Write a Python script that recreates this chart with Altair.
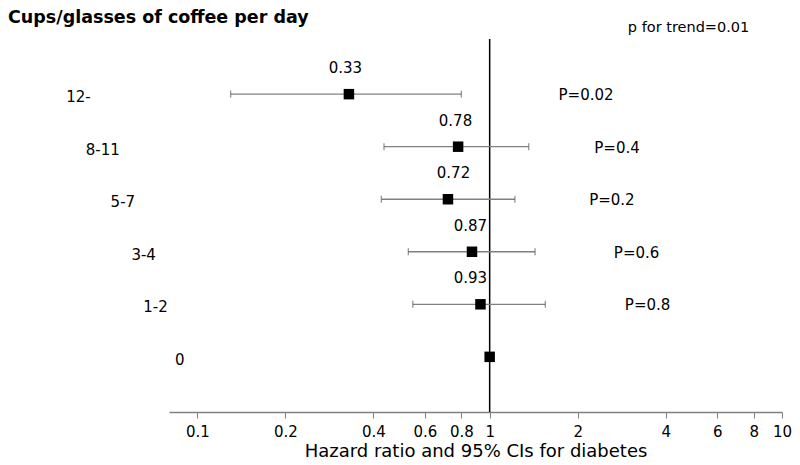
import altair as alt
import pandas as pd

categories = ["12-", "8-11", "5-7", "3-4", "1-2", "0"]
hr = [0.33, 0.78, 0.72, 0.87, 0.93, 1.0]
ci_low = [0.13, 0.435, 0.426, 0.527, 0.546, None]
ci_high = [0.80, 1.36, 1.22, 1.43, 1.55, None]
hr_text = ["0.33", "0.78", "0.72", "0.87", "0.93", ""]
p_text = ["P=0.02", "P=0.4", "P=0.2", "P=0.6", "P=0.8", ""]
# label anchor positions (in hazard-ratio units) as they appear in the figure
hr_label_x = [0.321, 0.764, 0.752, 0.859, 0.859, 1.0]
p_label_x = [1.72, 2.28, 2.19, 2.66, 2.90, None]
cat_label_x = [0.0356, 0.0415, 0.0505, 0.0595, 0.0653, 0.0839]
tick_values = [0.1, 0.2, 0.4, 0.6, 0.8, 1, 2, 4, 6, 8, 10]
trend_text = ["p for trend=0.01"]
trend_x = [2.97]
trend_row = [7.25]

n = len(categories)
df = pd.DataFrame({
    "cat": categories,
    "hr": hr,
    "lo": ci_low,
    "hi": ci_high,
    "hr_text": hr_text,
    "hr_x": hr_label_x,
    "p_text": p_text,
    "p_x": p_label_x,
    "cat_x": cat_label_x,
    "row": [n - i for i in range(n)],
})
ci_df = df.dropna(subset=["lo", "hi"])
p_df = df.dropna(subset=["p_x"])
trend_df = pd.DataFrame({"t": trend_text, "x": trend_x, "row": trend_row})
ref_df = pd.DataFrame({"x": [1.0]})

FONT = "DejaVu Sans"
xscale = alt.Scale(type="log", domain=[0.08, 10], nice=False)
yscale = alt.Scale(domain=[-0.05, 7.05], nice=False, zero=False)
xaxis = alt.Axis(
    values=tick_values, format="~g", title="Hazard ratio and 95% CIs for diabetes",
    grid=False, domainColor="#808080", tickColor="#808080", tickSize=6,
    labelFontSize=15, titleFontSize=18, labelColor="black", titleColor="black",
    labelPadding=6, titlePadding=3, titleFontWeight="normal", labelFont=FONT,
    titleFont=FONT, labelOverlap=False, labelFlush=False, domainWidth=1.5,
)


def X(field):
    return alt.X(field, type="quantitative", scale=xscale, axis=xaxis)


def Y(field="row"):
    return alt.Y(field, type="quantitative", scale=yscale, axis=None)


ref = alt.Chart(ref_df).mark_rule(color="black", strokeWidth=1.5).encode(x=X("x"))

ci = alt.Chart(ci_df).mark_rule(color="#808080", strokeWidth=1.3).encode(
    x=X("lo"), x2="hi", y=Y())
cap_lo = alt.Chart(ci_df).mark_tick(orient="vertical", color="#666666", size=7, thickness=1.3).encode(
    x=X("lo"), y=Y())
cap_hi = alt.Chart(ci_df).mark_tick(orient="vertical", color="#666666", size=7, thickness=1.3).encode(
    x=X("hi"), y=Y())
pts = alt.Chart(df).mark_square(size=110, color="black", opacity=1).encode(x=X("hr"), y=Y())

hr_lbl = alt.Chart(df).mark_text(dy=-26, fontSize=15, font=FONT, color="black").encode(
    x=X("hr_x"), y=Y(), text="hr_text:N")
cat_lbl = alt.Chart(df).mark_text(align="left", baseline="middle", dy=3, fontSize=15, font=FONT,
                                  color="black").encode(x=X("cat_x"), y=Y(), text="cat:N")
p_lbl = alt.Chart(p_df).mark_text(align="left", baseline="middle", dy=1, fontSize=15, font=FONT,
                                  color="black").encode(x=X("p_x"), y=Y(), text="p_text:N")
trend = alt.Chart(trend_df).mark_text(align="left", baseline="middle", fontSize=14.5, font=FONT,
                                      color="black").encode(x=X("x"), y=Y(), text="t:N")

chart = alt.layer(ref, ci, cap_lo, cap_hi, pts, hr_lbl, cat_lbl, p_lbl, trend).properties(
    width=613, height=373,
    padding={"left": 161, "top": 31, "right": 10, "bottom": 47},
    autosize=alt.AutoSizeParams(type="none"),
    title=alt.TitleParams("Cups/glasses of coffee per day", anchor="start", frame="group",
                          dx=-161, offset=-20, baseline="alphabetic", fontSize=17.5,
                          fontWeight="bold", font=FONT, color="black"),
).configure_view(strokeWidth=0)

chart.save("out.html", embed_options={"renderer": "svg", "actions": False})
